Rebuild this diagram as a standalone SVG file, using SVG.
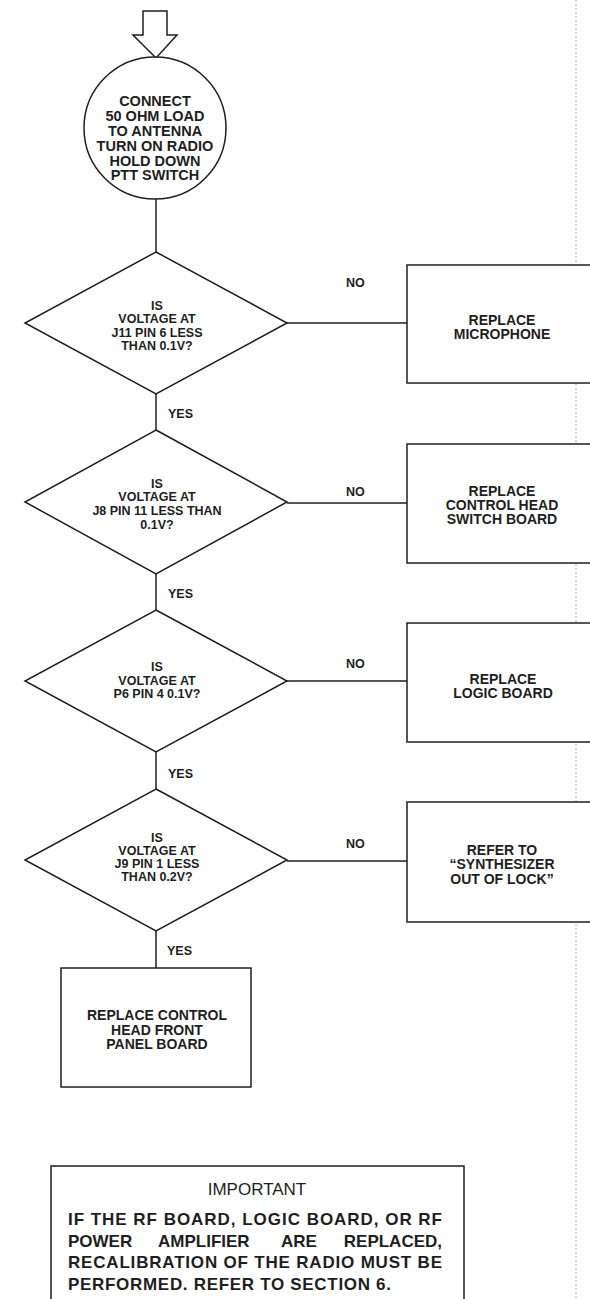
<svg xmlns="http://www.w3.org/2000/svg" width="590" height="1299" viewBox="0 0 590 1299">
<style>
.s{fill:#fff;stroke:#1e1e1e;stroke-width:1.5}
.c{fill:none;stroke:#1e1e1e;stroke-width:1.5}
text{font-family:"Liberation Sans",Arial,sans-serif;font-weight:bold;fill:#1e1e1e;text-anchor:middle}
.d{font-size:12.5px}
.b{font-size:14px}
.ci{font-size:14.5px}
.l{font-size:12.5px;text-anchor:start}
.imp{font-size:17px;font-weight:normal}
.p{font-size:17px;text-anchor:start}
.pe{font-size:17px;text-anchor:end}
</style>
<rect width="590" height="1299" fill="#fff"/>
<line x1="576" y1="0" x2="576" y2="1299" stroke="#aaa" stroke-width="1" stroke-dasharray="2 2"/>
<g id="connectors">
<line class="c" x1="156" y1="199" x2="156" y2="252"/>
<line class="c" x1="287" y1="323" x2="407" y2="323"/>
<line class="c" x1="156" y1="394" x2="156" y2="430"/>
<line class="c" x1="287" y1="503" x2="407" y2="503"/>
<line class="c" x1="156" y1="574" x2="156" y2="610"/>
<line class="c" x1="287" y1="681" x2="407" y2="681"/>
<line class="c" x1="156" y1="752" x2="156" y2="789"/>
<line class="c" x1="287" y1="861" x2="407" y2="861"/>
<line class="c" x1="156" y1="931" x2="156" y2="968"/>
<text class="l" x="346" y="287">NO</text>
<text class="l" x="346" y="496">NO</text>
<text class="l" x="346" y="668">NO</text>
<text class="l" x="346" y="848">NO</text>
<text class="l" x="168" y="418">YES</text>
<text class="l" x="168" y="598">YES</text>
<text class="l" x="168" y="778">YES</text>
<text class="l" x="167" y="955">YES</text>
</g>
<g id="start">
<polygon class="s" points="143,11 167,11 167,35 177,35 156,58 133,35 143,35"/>
</g>
<g id="n0">
<circle class="s" cx="155" cy="128" r="71"/>
<text class="ci" x="155" y="106">CONNECT</text>
<text class="ci" x="155" y="121">50 OHM LOAD</text>
<text class="ci" x="155" y="136">TO ANTENNA</text>
<text class="ci" x="155" y="151">TURN ON RADIO</text>
<text class="ci" x="155" y="166">HOLD DOWN</text>
<text class="ci" x="155" y="180">PTT SWITCH</text>
</g>
<g id="d1">
<polygon class="s" points="156,252 287,323 156,394 25,323"/>
<text class="d" x="157" y="310">IS</text>
<text class="d" x="157" y="323">VOLTAGE AT</text>
<text class="d" x="157" y="337">J11 PIN 6 LESS</text>
<text class="d" x="157" y="350">THAN 0.1V?</text>
</g>
<g id="b1">
<rect class="s" x="407" y="265" width="200" height="118"/>
<text class="b" x="502" y="325">REPLACE</text>
<text class="b" x="502" y="339">MICROPHONE</text>
</g>
<g id="d2">
<polygon class="s" points="156,430 287,502 156,574 25,502"/>
<text class="d" x="157" y="488">IS</text>
<text class="d" x="157" y="501">VOLTAGE AT</text>
<text class="d" x="157" y="515">J8 PIN 11 LESS THAN</text>
<text class="d" x="157" y="529">0.1V?</text>
</g>
<g id="b2">
<rect class="s" x="407" y="444" width="200" height="119"/>
<text class="b" x="502" y="496">REPLACE</text>
<text class="b" x="502" y="510">CONTROL HEAD</text>
<text class="b" x="502" y="524">SWITCH BOARD</text>
</g>
<g id="d3">
<polygon class="s" points="156,610 287,681 156,752 25,681"/>
<text class="d" x="157" y="671">IS</text>
<text class="d" x="157" y="685">VOLTAGE AT</text>
<text class="d" x="157" y="698">P6 PIN 4 0.1V?</text>
</g>
<g id="b3">
<rect class="s" x="407" y="623" width="200" height="119"/>
<text class="b" x="503" y="684">REPLACE</text>
<text class="b" x="503" y="698">LOGIC BOARD</text>
</g>
<g id="d4">
<polygon class="s" points="156,789 287,860 156,931 25,860"/>
<text class="d" x="157" y="842">IS</text>
<text class="d" x="157" y="855">VOLTAGE AT</text>
<text class="d" x="157" y="868">J9 PIN 1 LESS</text>
<text class="d" x="157" y="881">THAN 0.2V?</text>
</g>
<g id="b4">
<rect class="s" x="407" y="802" width="200" height="120"/>
<text class="b" x="502" y="855">REFER TO</text>
<text class="b" x="502" y="869">“SYNTHESIZER</text>
<text class="b" x="502" y="884">OUT OF LOCK”</text>
</g>
<g id="b5">
<rect class="s" x="61" y="968" width="190" height="119"/>
<text class="b" x="157" y="1020">REPLACE CONTROL</text>
<text class="b" x="157" y="1035">HEAD FRONT</text>
<text class="b" x="157" y="1049">PANEL BOARD</text>
</g>
<g id="important">
<rect class="s" x="51" y="1166" width="413" height="150"/>
<text class="imp" x="257" y="1195">IMPORTANT</text>
<text class="p" x="68" y="1225" textLength="374" lengthAdjust="spacing">IF THE RF BOARD, LOGIC BOARD, OR RF</text>
<text class="p" x="68" y="1247">POWER</text>
<text class="p" x="158" y="1247">AMPLIFIER</text>
<text class="p" x="281" y="1247">ARE</text>
<text class="pe" x="442" y="1247">REPLACED,</text>
<text class="p" x="68" y="1268" textLength="374" lengthAdjust="spacing">RECALIBRATION OF THE RADIO MUST BE</text>
<text class="p" x="68" y="1290" textLength="323" lengthAdjust="spacing">PERFORMED. REFER TO SECTION 6.</text>
</g>
</svg>
